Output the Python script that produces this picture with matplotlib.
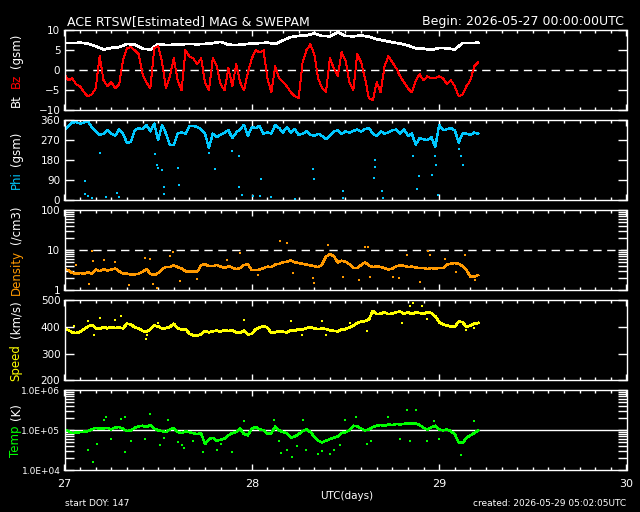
import numpy as np
import matplotlib
matplotlib.use("Agg")
import matplotlib.pyplot as plt
from matplotlib.ticker import MultipleLocator, FixedLocator, NullFormatter

# sample times, hours after 2026-05-27 00:00 UTC
bt_hours = np.arange(0, 54, 1.0)
half_hours = np.arange(0, 53.5, 0.5)

# ---- Bt / Bz (nT) ----
bt = [6.8, 6.8, 6.9, 6.7, 6.0, 5.2, 5.6, 5.8, 6.6, 6.4, 5.4, 5.2, 6.6, 6.3, 6.4, 6.5, 6.6, 6.5,
      6.6, 6.8, 7.1, 6.4, 6.3, 6.5, 6.7, 6.8, 6.9, 6.6, 7.5, 8.3, 8.6, 8.7, 9.2, 8.6, 8.5, 9.5,
      8.6, 8.5, 8.7, 8.4, 7.8, 7.4, 7.0, 6.7, 6.2, 5.5, 5.4, 5.1, 5.6, 5.5, 5.2, 6.8, 6.8, 6.9]
bz = [-1.0, -2.5, -2.0, -3.5, -4.0, -5.5, -6.5, -6.0, -4.5, 3.5, -2.5, -4.0, -3.0, -4.5, -3.5, 2.5,
      5.5, 5.8, 5.0, 4.0, -1.0, -3.0, -4.5, 5.5, 6.0, 2.0, -4.5, -1.5, 3.0, -2.5, -5.0, 5.0,
      3.5, 3.0, 1.5, 3.0, -3.0, -5.0, 3.0, 1.0, -3.5, -5.0, 0.5, -4.0, 1.5, -3.0, -5.0, -0.5,
      3.0, 5.0, 4.5, 5.0, -2.0, -5.5, 1.0, -2.0, -3.0, -4.0, -5.5, -6.5, -7.0, 2.0, 5.0, 6.5,
      4.0, -2.0, -4.5, -5.5, 3.0, 0.5, -1.5, 4.5, 2.5, -3.0, -5.0, 4.0, 2.0, -2.0, -7.0, -7.5,
      -3.0, -5.5, 1.0, 3.5, 2.0, 0.5, -1.5, -3.0, -4.5, -5.5, -2.5, -1.0, -2.5, -1.5, -2.0, -2.0,
      -1.5, -2.0, -3.5, -2.5, -4.0, -6.5, -6.0, -4.0, -2.5, 1.0, 2.0]

# ---- Phi (deg) ----
phi = [315, 335, 350, 352, 345, 350, 355, 330, 310, 295, 300, 315, 300, 290, 320, 300, 258, 262,
       315, 325, 320, 340, 310, 345, 270, 340, 300, 250, 248, 300, 305, 300, 335, 335, 330, 320,
       300, 235, 300, 285, 295, 305, 315, 280, 305, 320, 340, 290, 330, 325, 335, 300, 305, 300,
       340, 325, 305, 330, 305, 320, 295, 300, 310, 295, 290, 300, 290, 275, 290, 310, 315, 300,
       310, 305, 312, 318, 310, 320, 325, 300, 290, 310, 300, 305, 315, 318, 300, 320, 290, 300,
       250, 280, 275, 270, 285, 240, 340, 315, 320, 325, 315, 260, 300, 300, 295, 305, 300]
phi_out_hours = [2.6, 2.6, 3.0, 3.5, 4.5, 5.3, 6.7, 7.0, 11.6, 11.8, 12.0, 12.5, 12.7, 12.8, 14.6,
                 14.7, 18.5, 19.3, 21.4, 22.3, 22.3, 22.8, 24.1, 25.0, 25.2, 26.5, 29.5, 31.8, 32.0,
                 35.7, 35.7, 39.6, 39.8, 39.8, 40.7, 40.8, 44.7, 45.2, 45.4, 47.1, 47.5, 47.6, 47.9,
                 50.5, 50.8, 51.0]
phi_out = [85, 30, 20, 10, 213, 15, 35, 15, 210, 160, 145, 135, 60, 30, 145, 70, 215, 140, 220,
           200, 60, 25, 20, 20, 95, 15, 5, 140, 95, 40, 10, 100, 180, 150, 40, 10, 200, 50, 110,
           115, 200, 160, 25, 230, 200, 160]

# ---- Density (/cm3) ----
dens = [3.3, 3.2, 2.7, 2.6, 2.7, 2.6, 2.8, 2.6, 3.3, 3.0, 3.4, 3.1, 3.3, 3.5, 3.0, 2.6, 2.6, 2.5,
        2.5, 2.6, 2.9, 3.4, 2.6, 2.4, 2.7, 3.4, 3.8, 3.8, 4.2, 3.8, 3.5, 3.0, 2.9, 3.0, 2.9, 4.2,
        4.5, 4.0, 4.0, 4.3, 3.9, 3.6, 4.0, 3.7, 3.4, 3.6, 4.3, 4.4, 3.2, 3.2, 3.3, 3.6, 3.9, 3.8,
        4.4, 4.6, 5.0, 5.2, 5.6, 5.0, 4.8, 4.6, 4.4, 4.2, 4.0, 3.8, 4.4, 7.0, 8.0, 7.2, 5.0, 5.5,
        5.2, 4.5, 3.6, 3.6, 4.3, 5.0, 4.2, 3.8, 4.0, 3.8, 3.6, 3.3, 3.5, 4.0, 4.2, 4.1, 3.8, 3.9,
        3.7, 3.6, 3.6, 3.4, 3.6, 3.5, 3.6, 3.6, 4.4, 4.6, 4.8, 4.6, 4.0, 3.2, 2.2, 2.2, 2.4]
dens_out_hours = [27.6, 28.5, 33.8, 38.5, 38.9, 3.5, 13.9, 13.5, 11.8, 3.1, 11.4, 14.8, 32.0, 45.6,
                  37.7, 52.6, 8.2, 5.0, 3.6, 10.3, 10.9, 22.5, 46.6, 46.8, 51.3, 43.9, 29.3, 31.8,
                  35.7, 39.1, 42.1, 42.9, 1.5, 6.5, 17.0, 20.8, 24.8, 48.7, 50.2]
dens_out = [16.8, 15.0, 13.8, 12.0, 12.0, 9.8, 8.9, 7.1, 1.15, 1.4, 1.4, 1.7, 1.5, 1.6, 1.85, 1.85,
            1.33, 5.8, 5.5, 6.4, 6.2, 8.6, 9.8, 7.8, 7.8, 7.8, 2.7, 2.0, 2.2, 2.2, 2.2, 2.0, 4.4,
            5.2, 1.9, 5.6, 2.4, 6.0, 2.8]

# ---- Speed (km/s) ----
speed = [392, 388, 380, 377, 382, 392, 402, 408, 395, 392, 400, 395, 400, 396, 398, 395, 412, 410,
         398, 395, 385, 382, 392, 405, 402, 394, 396, 400, 412, 395, 390, 392, 375, 368, 368, 372,
         385, 380, 384, 386, 383, 388, 385, 387, 380, 378, 386, 372, 374, 392, 398, 404, 397, 378,
         380, 384, 382, 380, 388, 385, 392, 390, 396, 398, 395, 392, 394, 392, 388, 385, 384, 390,
         392, 398, 405, 415, 420, 422, 428, 460, 448, 450, 455, 448, 450, 455, 458, 450, 455, 448,
         455, 452, 450, 455, 452, 440, 418, 410, 405, 402, 400, 420, 418, 400, 405, 412, 415]
speed_out_hours = [3.0, 3.8, 4.5, 6.5, 7.3, 10.5, 10.6, 12.0, 14.2, 25.0, 29.0, 33.0, 33.5, 38.8,
                   43.2, 44.3, 44.7, 45.8, 46.5, 51.5, 52.5, 1.2, 23.0, 30.4, 36.6]
speed_out = [421, 370, 432, 425, 440, 356, 370, 415, 404, 400, 421, 424, 370, 384, 415, 477, 490,
             477, 430, 388, 395, 402, 428, 370, 415]

# ---- Temperature (K) ----
temp = [1.02, 0.95, 0.85, 0.88, 0.90, 0.92, 0.95, 1.05, 1.15, 1.10, 1.12, 1.15, 1.05, 1.18, 1.20,
        1.10, 0.95, 1.00, 1.15, 1.25, 1.30, 1.20, 1.35, 1.10, 1.00, 0.95, 0.90, 1.05, 1.15, 0.90,
        0.85, 0.95, 0.90, 0.85, 0.80, 0.85, 0.45, 0.60, 0.65, 0.55, 0.58, 0.62, 0.75, 0.85, 0.90,
        1.10, 0.80, 0.75, 1.10, 1.20, 1.05, 1.00, 0.80, 0.85, 1.25, 1.00, 0.90, 0.85, 0.65, 0.70,
        0.80, 0.95, 1.05, 0.90, 0.70, 0.55, 0.50, 0.55, 0.60, 0.65, 0.70, 0.85, 0.90, 1.00, 1.30,
        1.25, 1.10, 1.00, 1.05, 1.20, 1.30, 1.35, 1.30, 1.40, 1.35, 1.45, 1.40, 1.45, 1.50, 1.45,
        1.50, 1.35, 1.15, 1.05, 1.20, 1.30, 1.05, 1.00, 1.05, 0.95, 0.80, 0.50, 0.48, 0.65, 0.75,
        0.85, 1.00]
temp_out_hours = [3.0, 3.7, 4.2, 5.0, 5.3, 6.0, 7.3, 7.7, 7.8, 8.5, 10.3, 11.0, 12.2, 12.7, 13.3,
                  14.5, 15.0, 15.3, 16.5, 17.8, 19.5, 20.0, 21.5, 23.0, 26.8, 27.5, 27.8, 28.5,
                  29.2, 29.8, 30.5, 31.0, 32.5, 33.0, 34.0, 34.5, 35.3, 36.0, 37.3, 38.8, 39.3,
                  41.5, 43.9, 45.0, 43.0, 44.3, 47.3, 46.5, 48.0, 50.8, 52.5]
temp_out = [3.3, 1.6, 4.5, 18, 21, 6.0, 19, 21, 2.9, 5.5, 6.0, 25, 4.4, 6.5, 18, 5.0, 4.4, 3.7,
            5.5, 2.9, 3.3, 4.5, 2.9, 17, 18, 5.5, 2.7, 3.3, 2.2, 4.0, 18, 3.3, 2.5, 3.0, 2.5, 3.3,
            4.3, 18, 22, 4.5, 5.5, 22, 32, 32, 6.0, 5.5, 17, 5.5, 6.0, 2.4, 17]  # x 1e4 K

day_ticks = [27, 28, 29, 30]

WHITE = "white"
BZ_RED = "#ff0000"
PHI_C = "#00c8ff"
DENS_C = "#ff9900"
SPEED_C = "#ffff00"
TEMP_C = "#00ff00"


def days(h):
    return 27 + np.asarray(h) / 24.0


fig = plt.figure(figsize=(6.4, 5.12), dpi=100, facecolor="black")
W, H = 640.0, 512.0
axes = []
for i in range(5):
    top = 30.3 + 90 * i
    ax = fig.add_axes([64.5 / W, 1 - (top + 80) / H, 562 / W, 80 / H], facecolor="black")
    for s in ax.spines.values():
        s.set_color(WHITE)
        s.set_linewidth(1.0)
    ax.set_xlim(27, 30)
    ax.xaxis.set_major_locator(FixedLocator(day_ticks))
    ax.xaxis.set_minor_locator(MultipleLocator(1 / 12.0))
    ax.tick_params(axis="x", which="both", direction="in", top=True, bottom=True, colors=WHITE,
                   labelcolor=WHITE, labelsize=8, pad=6)
    ax.tick_params(axis="x", which="major", length=4, width=1)
    ax.tick_params(axis="x", which="minor", length=2, width=1)
    ax.tick_params(axis="y", which="both", direction="in", left=True, right=True, colors=WHITE,
                   labelcolor=WHITE, labelsize=7.5, pad=3, length=6.5, width=1)
    if i < 4:
        ax.xaxis.set_major_formatter(NullFormatter())
    axes.append(ax)

# pixel-ish IDL look: no antialiasing on the data
mk = dict(marker="s", markersize=1.5, markeredgewidth=0, antialiased=False)
dots = dict(ls="none", marker="s", markersize=1.6, markeredgewidth=0, antialiased=False)

# panel 1
ax = axes[0]
ax.set_ylim(-10, 10)
ax.set_yticks([-10, -5, 0, 5, 10])
ax.axhline(0, color=WHITE, lw=1, dashes=(6, 4))
ax.plot(days(bt_hours), bt, color=WHITE, lw=1.2, **mk)
ax.plot(days(half_hours), bz, color=BZ_RED, lw=0.7, **mk)

# panel 2
ax = axes[1]
ax.set_ylim(0, 360)
ax.set_yticks([0, 90, 180, 270, 360])
ax.plot(days(half_hours), phi, color=PHI_C, lw=1.0, **mk)
ax.plot(days(phi_out_hours), phi_out, color=PHI_C, **dots)

# panel 3
ax = axes[2]
ax.set_yscale("log")
ax.set_ylim(1, 100)
ax.set_yticks([1, 10, 100])
ax.set_yticklabels(["1", "10", "100"])
ax.yaxis.set_minor_locator(FixedLocator([k * 10 ** e for e in (0, 1) for k in range(2, 10)]))
ax.yaxis.set_minor_formatter(NullFormatter())
ax.axhline(10, color=WHITE, lw=1, dashes=(6, 4))
ax.plot(days(half_hours), dens, color=DENS_C, lw=1.1, **mk)
ax.plot(days(dens_out_hours), dens_out, color=DENS_C, **dots)

# panel 4
ax = axes[3]
ax.set_ylim(200, 500)
ax.set_yticks([200, 300, 400, 500])
ax.plot(days(half_hours), speed, color=SPEED_C, lw=1.2, **mk)
ax.plot(days(speed_out_hours), speed_out, color=SPEED_C, **dots)

# panel 5
ax = axes[4]
ax.set_yscale("log")
ax.set_ylim(1e4, 1e6)
ax.set_yticks([1e4, 1e5, 1e6])
ax.set_yticklabels(["1.0E+04", "1.0E+05", "1.0E+06"], fontsize=6.5)
ax.yaxis.set_minor_locator(FixedLocator([k * 10 ** e for e in (4, 5) for k in range(2, 10)]))
ax.yaxis.set_minor_formatter(NullFormatter())
ax.axhline(1e5, color=WHITE, lw=1)
ax.plot(days(half_hours), np.array(temp) * 1e5, color=TEMP_C, lw=1.1, **mk)
ax.plot(days(temp_out_hours), np.array(temp_out) * 1e4, color=TEMP_C, **dots)
ax.set_xticklabels([str(d) for d in day_ticks])

# header / footer text
fig.text(67 / W, 1 - 25 / H, "ACE RTSW[Estimated] MAG & SWEPAM", color=WHITE, fontsize=9, va="baseline")
fig.text(624 / W, 1 - 25 / H, "Begin: 2026-05-27 00:00:00UTC", color=WHITE, fontsize=9, va="baseline", ha="right")
fig.text(347 / W, 1 - 496 / H, "UTC(days)", color=WHITE, fontsize=7.5, ha="center", va="center")
fig.text(65 / W, 1 - 504 / H, "start DOY: 147", color=WHITE, fontsize=6.5, va="center")
fig.text(626 / W, 1 - 504 / H, "created: 2026-05-29 05:02:05UTC", color=WHITE, fontsize=6.5, va="center", ha="right")

# rotated multi-coloured y labels
ylabels = [
    [("Bt", WHITE), ("Bz", BZ_RED), ("(gsm)", WHITE)],
    [("Phi", PHI_C), ("(gsm)", WHITE)],
    [("Density", DENS_C), ("(/cm3)", WHITE)],
    [("Speed", SPEED_C), ("(km/s)", WHITE)],
    [("Temp", TEMP_C), ("(K)", WHITE)],
]
all_texts = []
for parts in ylabels:
    all_texts.append([fig.text(0, 0, s, color=c, rotation=90, fontsize=8.5, ha="center", va="bottom")
                      for s, c in parts])
fig.canvas.draw()
r = fig.canvas.get_renderer()
gap = 6
for ax, texts in zip(axes, all_texts):
    hs = [t.get_window_extent(r).height for t in texts]
    b = ax.get_position()
    cy = (b.y0 + b.y1) / 2 * H
    y = cy - (sum(hs) + gap * (len(hs) - 1)) / 2
    for t, h in zip(texts, hs):
        t.set_position((16 / W, y / H))
        y += h + gap

fig.savefig("out.png", dpi=100, facecolor="black")
